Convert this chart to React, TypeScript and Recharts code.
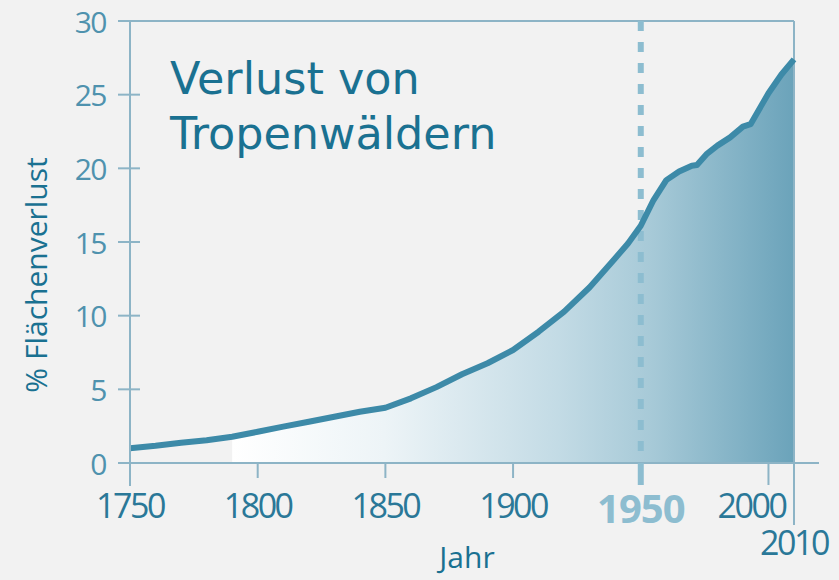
import React from 'react';
import { ComposedChart, Area, Line, XAxis, YAxis, ReferenceLine } from 'recharts';

// Anteil der verlorenen Tropenwaldfläche in %
const years = [
  1750, 1760, 1770, 1780, 1790, 1800, 1810, 1820, 1830, 1840, 1850, 1860, 1870, 1880, 1890,
  1900, 1910, 1920, 1930, 1940, 1945, 1950, 1955, 1960, 1965, 1970, 1972, 1976, 1980, 1985,
  1990, 1993, 2000, 2005, 2010,
];
const loss = [
  1.0, 1.17, 1.38, 1.55, 1.78, 2.12, 2.47, 2.8, 3.14, 3.48, 3.75, 4.39, 5.15, 6.02, 6.77,
  7.67, 8.91, 10.27, 11.93, 13.9, 14.9, 16.1, 17.85, 19.2, 19.78, 20.18, 20.22, 21.0, 21.54, 22.1,
  22.83, 23.0, 25.1, 26.35, 27.4,
];
const fillFrom = 1790;
const xTicks = [1750, 1800, 1850, 1900, 1950, 2000, 2010];
const yTicks = [0, 5, 10, 15, 20, 25, 30];

const data = years.map((year, i) => ({
  year,
  loss: loss[i],
  fill: year >= fillFrom ? loss[i] : null,
}));

const AXIS = '#8db4c6';
const LINE = '#3d8aa8';
const DASH = '#8dbdd0';
const TEXT = '#1a7191';
const TICK_FONT = '"Open Sans", sans-serif';

const YTick = (props: any) => {
  const { x, y, payload } = props;
  return (
    <g>
      <line x1={x - 12} x2={x + 10} y1={y} y2={y} stroke={AXIS} strokeWidth={2} />
      <text
        x={x - 24}
        y={y}
        textAnchor="end"
        dominantBaseline="central"
        fill="#4f92ae"
        fontSize={30}
        letterSpacing={-1.5}
        fontFamily={TICK_FONT}
      >
        {payload.value}
      </text>
    </g>
  );
};

const XTick = (props: any) => {
  const { x, y, payload } = props;
  const v = payload.value;
  if (v === 1950) {
    return (
      <g>
        <line x1={x} x2={x} y1={y} y2={y + 22} stroke={DASH} strokeWidth={6} />
        <text x={x} y={y + 60} textAnchor="middle" fill={DASH} fontSize={40} fontWeight="bold"
          letterSpacing={-1} fontFamily={TICK_FONT}>
          {v}
        </text>
      </g>
    );
  }
  if (v === 2010) {
    return (
      <g>
        <line x1={x} x2={x + 25} y1={y} y2={y} stroke={AXIS} strokeWidth={2} />
        <line x1={x} x2={x} y1={y} y2={y + 62} stroke={AXIS} strokeWidth={2} />
        <text x={x} y={y + 92} textAnchor="middle" fill="#2a7898" fontSize={34}
          letterSpacing={-2.5} fontFamily={TICK_FONT}>
          {v}
        </text>
      </g>
    );
  }
  const down = v === 1750 ? 23 : v === 2000 ? 22 : 15;
  const shift = v === 2000 ? -17 : 0;
  return (
    <g>
      {v === 1750 && <line x1={x - 12} x2={x} y1={y} y2={y} stroke={AXIS} strokeWidth={2} />}
      <line x1={x} x2={x} y1={y} y2={y + down} stroke={AXIS} strokeWidth={2} />
      <text x={x + shift} y={y + 55} textAnchor="middle" fill="#2a7898" fontSize={34}
        letterSpacing={-2.5} fontFamily={TICK_FONT}>
        {v}
      </text>
    </g>
  );
};

const YLabel = (props: any) => {
  const { viewBox } = props;
  const cx = viewBox.x + 35;
  const cy = viewBox.y + viewBox.height / 2 + 33;
  return (
    <text x={cx} y={cy} transform={`rotate(-90, ${cx}, ${cy})`} textAnchor="middle"
      dominantBaseline="central" fill={TEXT} fontSize={30} fontFamily={TICK_FONT}>
      % Flächenverlust
    </text>
  );
};

const XLabel = (props: any) => {
  const { viewBox } = props;
  return (
    <text x={viewBox.x + viewBox.width / 2 + 5} y={viewBox.y + 105} textAnchor="middle"
      fill={TEXT} fontSize={30} fontFamily={TICK_FONT}>
      Jahr
    </text>
  );
};

export default function App() {
  return (
    <div style={{ position: 'fixed', left: 0, top: 0, width: 839, height: 580, background: '#f2f2f2' }}>
      <ComposedChart width={839} height={580} data={data} margin={{ top: 21, right: 45, left: 0, bottom: 0 }}>
        <defs>
          <linearGradient id="lossFill" x1="0" y1="0" x2="1" y2="0">
            <stop offset="0%" stopColor="#ffffff" />
            <stop offset="27%" stopColor="#edf4f7" />
            <stop offset="58%" stopColor="#c3dbe5" />
            <stop offset="75%" stopColor="#a6c9d7" />
            <stop offset="100%" stopColor="#6ba3ba" />
          </linearGradient>
        </defs>
        <XAxis
          dataKey="year"
          type="number"
          domain={[1750, 2010]}
          ticks={xTicks}
          interval={0}
          height={117}
          tickSize={0}
          tickMargin={0}
          tickLine={false}
          axisLine={{ stroke: AXIS, strokeWidth: 2 }}
          tick={<XTick />}
          label={<XLabel />}
        />
        <YAxis
          type="number"
          domain={[0, 30]}
          ticks={yTicks}
          interval={0}
          width={130}
          tickSize={0}
          tickMargin={0}
          tickLine={false}
          axisLine={{ stroke: AXIS, strokeWidth: 2 }}
          tick={<YTick />}
          label={<YLabel />}
        />
        <ReferenceLine y={30} stroke={AXIS} strokeWidth={2} />
        <ReferenceLine x={2010} stroke={AXIS} strokeWidth={2} />
        <Area
          type="linear"
          dataKey="fill"
          stroke="none"
          fill="url(#lossFill)"
          fillOpacity={1}
          isAnimationActive={false}
        />
        <ReferenceLine x={1950} stroke={DASH} strokeWidth={6} strokeDasharray="10 11" strokeDashoffset={9} />
        <Line
          type="linear"
          dataKey="loss"
          stroke={LINE}
          strokeWidth={6}
          strokeLinejoin="round"
          dot={false}
          isAnimationActive={false}
        />
      </ComposedChart>
      <div
        style={{
          position: 'absolute',
          left: 170,
          top: 51,
          color: TEXT,
          fontFamily: '"DejaVu Sans", sans-serif',
          fontSize: 44.5,
          lineHeight: '55px',
        }}
      >
        Verlust von
        <br />
        Tropenwäldern
      </div>
    </div>
  );
}
